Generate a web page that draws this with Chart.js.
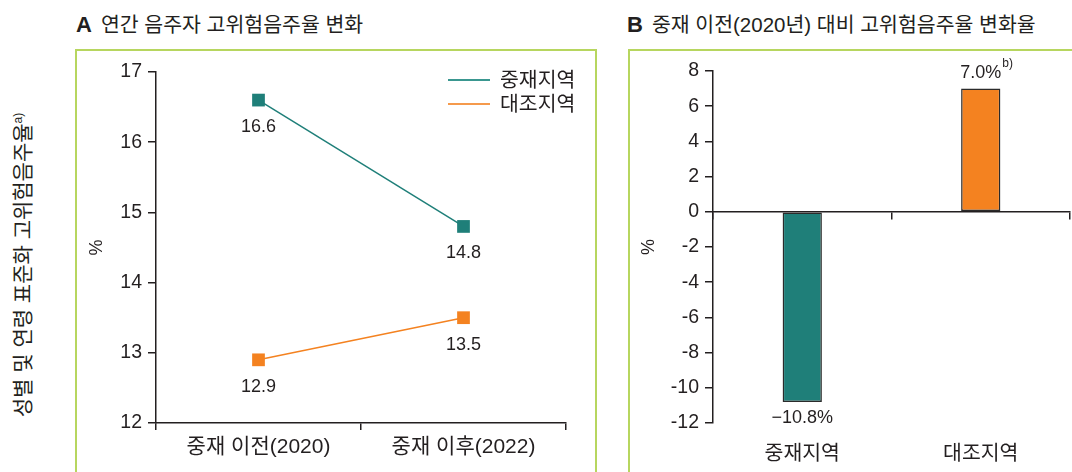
<!DOCTYPE html>
<html>
<head>
<meta charset="utf-8">
<script src="https://cdn.jsdelivr.net/npm/chart.js@4.4.0/dist/chart.umd.min.js"></script>
<style>
body{margin:0;width:1072px;height:472px;background:#fff;overflow:hidden;position:relative;font-family:"Liberation Sans","Noto Sans CJK KR",sans-serif;color:#231f20}
.box{position:absolute;border:2px solid #b7d65f;border-bottom:none}
.title{position:absolute;font-size:20.5px;white-space:nowrap;line-height:26px}
.title b{font-size:22px;margin-right:9px}
canvas{position:absolute}
#outer{position:absolute;left:21px;top:265px;transform:translate(-50%,-50%) rotate(-90deg);white-space:nowrap;font-size:21px}
#outer sup{font-size:12px}
</style>
</head>
<body>
<div class="title" style="left:76px;top:12px"><b>A</b>연간 음주자 고위험음주율 변화</div>
<div class="title" style="left:627px;top:12px"><b>B</b>중재 이전(2020년) 대비 고위험음주율 변화율</div>
<div class="box" style="left:75px;top:49px;width:518px;height:430px"></div>
<div class="box" style="left:628px;top:49px;width:500px;height:430px"></div>
<div id="outer">성별 및 연령 표준화 고위험음주율<sup>a)</sup></div>
<canvas id="lineChart" width="510" height="420" style="left:80px;top:52px"></canvas>
<canvas id="barChart" width="440" height="420" style="left:632px;top:52px"></canvas>
<script>
// values
const periods = ['중재 이전(2020)', '중재 이후(2022)'];
const seriesNames = ['중재지역', '대조지역'];
const interventionRates = [16.6, 14.8];
const controlRates = [12.9, 13.5];
const regions = ['중재지역', '대조지역'];
const changeRates = [-10.8, 7.0];
const changeLabels = ['\u221210.8%', '7.0%'];
const changeNotes = ['', 'b)'];

const teal = '#1f7f79', orange = '#f48220';
const ink = '#231f20';
const fam = "'Liberation Sans','Noto Sans CJK KR',sans-serif";

Chart.defaults.font.family = fam;
Chart.defaults.font.size = 18;
Chart.defaults.color = ink;

const axisGrid = {drawOnChartArea:false, color:ink, lineWidth:1.5, tickLength:7};
const axisBorder = {color:ink, width:1.5};

// value under each point of the line chart
const pointLabels = {
  id:'pointLabels',
  afterDatasetsDraw(chart){
    const ctx = chart.ctx;
    ctx.save();
    ctx.font = '18px ' + fam;
    ctx.fillStyle = ink;
    ctx.textAlign = 'center';
    ctx.textBaseline = 'middle';
    chart.data.datasets.forEach((ds, i) => {
      chart.getDatasetMeta(i).data.forEach((el, j) => {
        ctx.fillText(ds.data[j].toFixed(1), el.x, el.y + 27);
      });
    });
    ctx.restore();
  }
};

// stacked legend in the top right corner
const stackLegend = {
  id:'stackLegend',
  afterDraw(chart){
    const ctx = chart.ctx, a = chart.chartArea;
    ctx.save();
    ctx.font = '20.5px ' + fam;
    ctx.textBaseline = 'middle';
    chart.data.datasets.forEach((ds, i) => {
      const y = a.top + 8 + i * 24;
      const x0 = a.right - 118;
      ctx.strokeStyle = ds.legendColor;
      ctx.lineWidth = 2;
      ctx.beginPath(); ctx.moveTo(x0, y); ctx.lineTo(x0 + 42, y); ctx.stroke();
      ctx.fillStyle = ink;
      ctx.fillText(ds.label, x0 + 52, y + 1);
    });
    ctx.restore();
  }
};

new Chart(document.getElementById('lineChart'), {
  type:'line',
  data:{
    labels:periods,
    datasets:[
      {label:seriesNames[0], data:interventionRates, borderColor:teal, backgroundColor:teal, legendColor:'#3a9790',
       borderWidth:1.5, pointStyle:'rect', pointRadius:9, pointBorderWidth:0},
      {label:seriesNames[1], data:controlRates, borderColor:orange, backgroundColor:orange, legendColor:'#f59a4c',
       borderWidth:1.5, pointStyle:'rect', pointRadius:9, pointBorderWidth:0}
    ]
  },
  options:{
    responsive:false,
    animation:false,
    layout:{padding:{top:20, right:24, bottom:0, left:0}},
    plugins:{legend:{display:false}, tooltip:{enabled:false}},
    scales:{
      x:{
        offset:true,
        grid:Object.assign({offset:true}, axisGrid),
        border:axisBorder,
        ticks:{padding:5, font:{size:21}},
        afterFit(s){ s.height = 49; }
      },
      y:{
        min:12, max:17,
        ticks:{stepSize:1, padding:6, font:{size:19.5}},
        grid:Object.assign({}, axisGrid, {tickLength:8}),
        border:axisBorder,
        title:{display:true, text:'%', font:{size:18}, padding:{top:6, bottom:0}},
        afterFit(s){ s.width = 76; }
      }
    }
  },
  plugins:[pointLabels, stackLegend]
});

// percent labels at the end of each bar
const barLabels = {
  id:'barLabels',
  afterDatasetsDraw(chart){
    const ctx = chart.ctx;
    ctx.save();
    ctx.fillStyle = ink;
    ctx.textBaseline = 'middle';
    chart.getDatasetMeta(0).data.forEach((el, j) => {
      const v = changeRates[j];
      const y = v >= 0 ? el.y - 16 : el.y + 16;
      ctx.font = '18px ' + fam;
      ctx.textAlign = 'center';
      ctx.fillText(changeLabels[j], el.x, y);
      if (changeNotes[j]) {
        const w = ctx.measureText(changeLabels[j]).width;
        ctx.font = '12px ' + fam;
        ctx.textAlign = 'left';
        ctx.fillText(changeNotes[j], el.x + w / 2 + 1, y - 9);
      }
    });
    ctx.restore();
  }
};

new Chart(document.getElementById('barChart'), {
  type:'bar',
  data:{
    labels:regions,
    datasets:[{
      data:changeRates,
      backgroundColor:[teal, orange],
      borderColor:'#2b2b2b',
      borderWidth:1.5,
      borderSkipped:false,
      barPercentage:0.22,
      categoryPercentage:1
    }]
  },
  options:{
    responsive:false,
    animation:false,
    layout:{padding:{top:19, right:2, bottom:0, left:0}},
    plugins:{legend:{display:false}, tooltip:{enabled:false}},
    scales:{
      x:{
        position:{y:0},
        offset:true,
        grid:Object.assign({offset:true}, axisGrid),
        border:axisBorder,
        ticks:{display:false}
      },
      x2:{
        type:'category',
        labels:regions,
        position:'bottom',
        offset:true,
        grid:{display:false},
        border:{display:false},
        ticks:{padding:11, font:{size:20.5}},
        afterFit(s){ s.height = 49; }
      },
      y:{
        min:-12, max:8,
        ticks:{stepSize:2, padding:6, font:{size:19.5}, callback:v => String(v)},
        grid:Object.assign({}, axisGrid, {tickLength:8}),
        border:axisBorder,
        title:{display:true, text:'%', font:{size:18}, padding:{top:6, bottom:0}},
        afterFit(s){ s.width = 81; }
      }
    }
  },
  plugins:[barLabels]
});
</script>
</body>
</html>
